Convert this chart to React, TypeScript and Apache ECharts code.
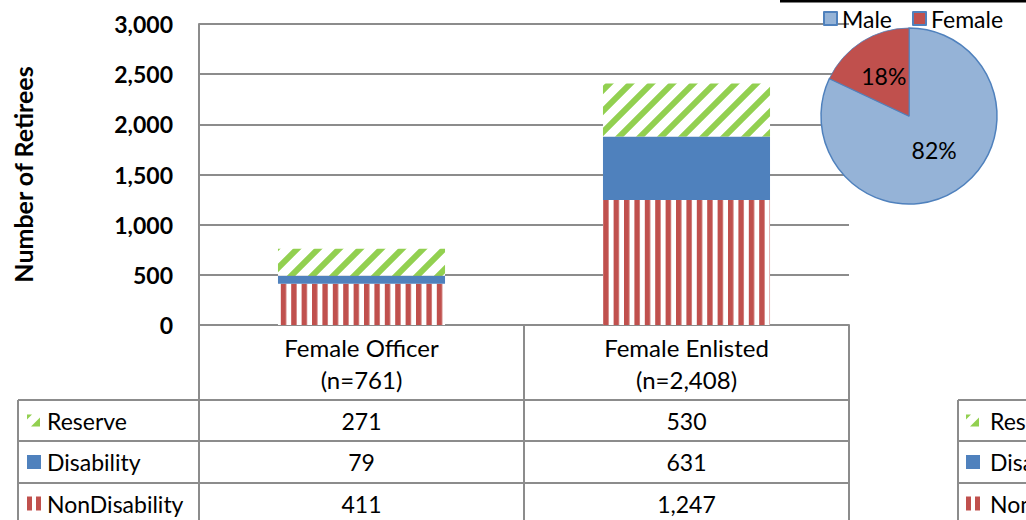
import React, { useEffect, useRef } from 'react';
import * as echarts from 'echarts';

// ---------- data ----------
const categories = ['Female Officer', 'Female Enlisted'];
const seriesNames = ['Reserve', 'Disability', 'NonDisability'];
const reserve = [271, 530];
const disability = [79, 631];
const nonDisability = [411, 1247];
const yMin = 0;
const yMax = 3000;
const yInterval = 500;
const pieNames = ['Male', 'Female'];
const pieValues = [82, 18];

// ---------- style / layout ----------
const FONT = 'Lato, "Open Sans", sans-serif';
const GRID_LEFT = 199;
const GRID_TOP = 24;
const GRID_W = 650;
const GRID_H = 301;
const LINE = '#8c8c8c';
const RED = '#C0504D';
const BLUE = '#4F81BD';
const GREEN = '#92D050';
const TABLE_LEFT = 18;
const ROW_Y = [400, 441, 483, 524];
const SIDE_TABLE_LEFT = 958;

const svgUrl = (s: string) => 'data:image/svg+xml;charset=utf-8,' + encodeURIComponent(s);

const stripePattern = {
  image: svgUrl(
    "<svg xmlns='http://www.w3.org/2000/svg' width='10.4' height='10'><rect width='10.4' height='10' fill='#ffffff'/><rect x='0' width='5.4' height='10' fill='" + RED + "'/></svg>"
  ),
  repeat: 'repeat',
  imageWidth: 10.4,
  imageHeight: 10,
};

const diagPattern = {
  image: svgUrl(
    "<svg xmlns='http://www.w3.org/2000/svg' width='21' height='21'><rect width='21' height='21' fill='#ffffff'/><path d='M-6,6 L6,-6 M0,21 L21,0 M15,27 L27,15' stroke='" + GREEN + "' stroke-width='6'/></svg>"
  ),
  repeat: 'repeat',
  imageWidth: 21,
  imageHeight: 21,
};

const seriesValues = [reserve, disability, nonDisability];
const seriesFills: any[] = [diagPattern, BLUE, stripePattern];
const totals = categories.map((_, i) => reserve[i] + disability[i] + nonDisability[i]);
const fmt = (n: number) => n.toLocaleString('en-US');

export default function App() {
  const ref = useRef<HTMLDivElement>(null);

  useEffect(() => {
    const el = ref.current!;
    const chart = echarts.init(el, null, { renderer: 'svg', width: 1026, height: 520 });

    const barSeries = [2, 1, 0].map((k) => ({
      name: seriesNames[k],
      type: 'bar',
      stack: 'total',
      barCategoryGap: '48.6%',
      data: seriesValues[k],
      itemStyle: { color: seriesFills[k] },
      z: 2,
    }));

    const option: any = {
      animation: false,
      backgroundColor: '#ffffff',
      grid: {
        left: GRID_LEFT,
        top: GRID_TOP,
        width: GRID_W,
        height: GRID_H,
        containLabel: false,
        outerBoundsMode: 'none',
      },
      xAxis: {
        type: 'category',
        data: categories,
        axisLine: { show: true, lineStyle: { color: LINE, width: 2 } },
        axisTick: { show: false },
        axisLabel: {
          margin: 6,
          fontFamily: FONT,
          fontSize: 24,
          lineHeight: 32,
          color: '#000',
          formatter: (v: string, i: number) => `${v}\n(n=${fmt(totals[i])})`,
        },
      },
      yAxis: {
        type: 'value',
        min: yMin,
        max: yMax,
        interval: yInterval,
        name: 'Number of Retirees',
        nameLocation: 'middle',
        nameGap: 164,
        nameRotate: 90,
        nameTextStyle: { fontFamily: FONT, fontSize: 25, fontWeight: 'bold', color: '#000' },
        axisLine: { show: true, lineStyle: { color: LINE, width: 2 } },
        axisTick: { show: false },
        splitLine: { show: true, lineStyle: { color: LINE, width: 2 } },
        axisLabel: {
          margin: 26,
          fontFamily: FONT,
          fontSize: 23,
          fontWeight: 'bold',
          color: '#000',
          formatter: (v: number) => fmt(v),
        },
      },
      legend: {
        data: pieNames,
        left: 823,
        top: 7,
        padding: 0,
        icon: 'rect',
        itemWidth: 13,
        itemHeight: 13,
        itemGap: 20,
        textStyle: { fontFamily: FONT, fontSize: 23, color: '#000' },
      },
      series: [
        ...barSeries,
        {
          name: 'Gender',
          type: 'pie',
          center: [909, 116],
          radius: 88,
          startAngle: 90,
          clockwise: true,
          z: 5,
          label: {
            show: true,
            position: 'inside',
            formatter: '{d}%',
            fontFamily: FONT,
            fontSize: 23,
            color: '#000',
          },
          labelLine: { show: false },
          labelLayout: (p: any) => (p.dataIndex === 0 ? { dx: 0, dy: -3 } : { dx: 0, dy: 0 }),
          emphasis: { disabled: true },
          data: pieNames.map((n, i) => ({
            name: n,
            value: pieValues[i],
            itemStyle:
              i === 0
                ? { color: '#95B3D7', borderColor: BLUE, borderWidth: 1.5 }
                : { color: RED, borderColor: BLUE, borderWidth: 0.8 },
          })),
        },
      ],
    };

    chart.setOption(option);

    // Data table built from the axis scale
    const centers = categories.map((_, i) => chart.convertToPixel({ xAxisIndex: 0 }, i) as number);
    const band = centers.length > 1 ? centers[1] - centers[0] : GRID_W;
    const colEdges = [centers[0] - band / 2, ...centers.map((c) => c + band / 2)];
    const axisBottom = GRID_TOP + GRID_H;

    const g: any[] = [];
    const line = (x1: number, y1: number, x2: number, y2: number, color = LINE, w = 2) =>
      g.push({ type: 'line', shape: { x1, y1, x2, y2 }, style: { stroke: color, lineWidth: w }, z: 10 });

    colEdges.forEach((x) => line(x, axisBottom, x, 520));
    line(TABLE_LEFT, ROW_Y[0], TABLE_LEFT, 520);
    ROW_Y.slice(0, 3).forEach((y) => line(TABLE_LEFT, y, colEdges[colEdges.length - 1], y));

    const rowCenters = ROW_Y.slice(0, 3).map((y, i) => (y + ROW_Y[i + 1]) / 2);

    const drawIcon = (x: number, yc: number, k: number) => {
      if (k === 1) {
        g.push({ type: 'rect', shape: { x, y: yc - 7, width: 14, height: 14 }, style: { fill: BLUE }, z: 11 });
      } else if (k === 2) {
        g.push({ type: 'rect', shape: { x, y: yc - 7, width: 5, height: 14 }, style: { fill: RED }, z: 11 });
        g.push({ type: 'rect', shape: { x: x + 9, y: yc - 7, width: 5, height: 14 }, style: { fill: RED }, z: 11 });
      } else {
        g.push({ type: 'polygon', shape: { points: [[x, yc - 6], [x + 5, yc - 6], [x, yc - 1]] }, style: { fill: GREEN }, z: 11 });
        g.push({ type: 'polygon', shape: { points: [[x + 13, yc - 3], [x + 13, yc + 6], [x + 4, yc + 6]] }, style: { fill: GREEN }, z: 11 });
      }
    };

    const order = [0, 1, 2];
    const cellFont = `23px ${FONT}`;
    order.forEach((k, r) => {
      const yc = rowCenters[r];
      drawIcon(TABLE_LEFT + 9, yc, k);
      g.push({
        type: 'text',
        x: TABLE_LEFT + 29,
        y: yc,
        style: { text: seriesNames[k], fill: '#000', font: cellFont, align: 'left', verticalAlign: 'middle' },
        z: 11,
      });
      centers.forEach((cx, i) => {
        g.push({
          type: 'text',
          x: cx,
          y: yc,
          style: { text: fmt(seriesValues[k][i]), fill: '#000', font: cellFont, align: 'center', verticalAlign: 'middle' },
          z: 11,
        });
      });
    });

    // cropped neighbouring table at the right edge
    line(SIDE_TABLE_LEFT, ROW_Y[0], SIDE_TABLE_LEFT, 520);
    ROW_Y.slice(0, 3).forEach((y) => line(SIDE_TABLE_LEFT, y, 1030, y));
    order.forEach((k, r) => {
      const yc = rowCenters[r];
      drawIcon(SIDE_TABLE_LEFT + 8, yc, k);
      g.push({
        type: 'text',
        x: SIDE_TABLE_LEFT + 32,
        y: yc,
        style: { text: seriesNames[k], fill: '#000', font: cellFont, align: 'left', verticalAlign: 'middle' },
        z: 11,
      });
    });

    line(780, 1, 1026, 1, '#000', 3);

    chart.setOption({ graphic: g });

    return () => chart.dispose();
  }, []);

  return <div ref={ref} style={{ position: 'fixed', left: 0, top: 0, width: 1026, height: 520, background: '#fff' }} />;
}
